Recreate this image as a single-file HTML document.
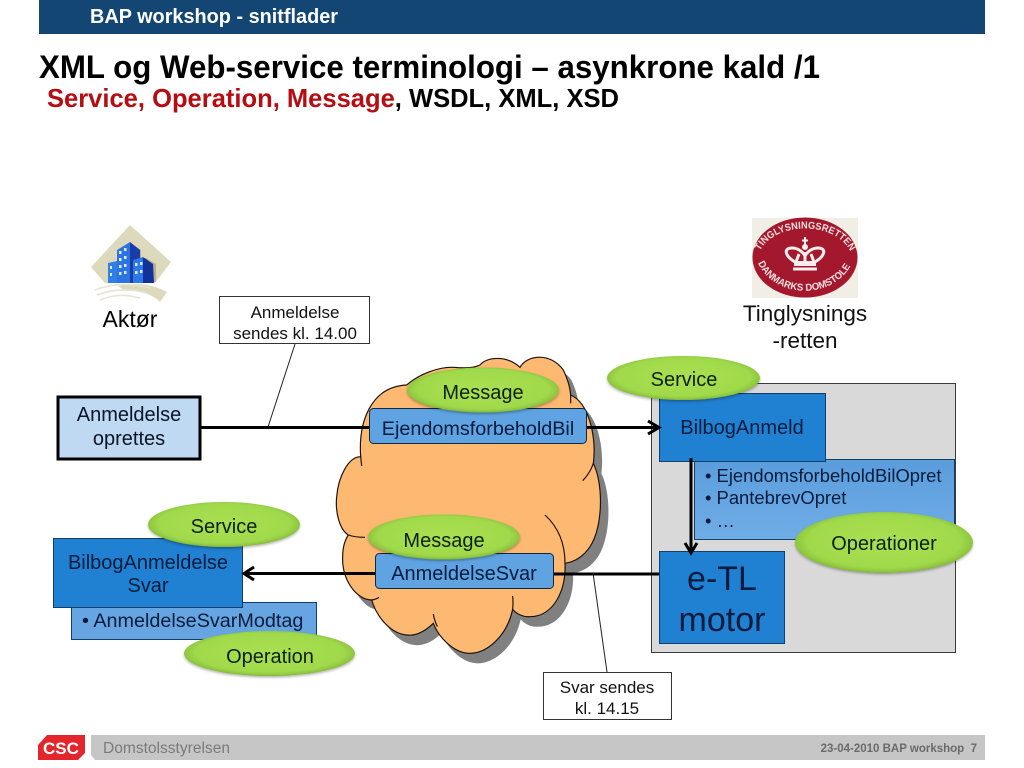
<!DOCTYPE html>
<html><head><meta charset="utf-8"><style>
html,body{margin:0;padding:0;background:#fff}
svg{display:block}
text{font-family:"Liberation Sans",sans-serif}
</style></head><body>
<svg xmlns="http://www.w3.org/2000/svg" width="1024" height="768" viewBox="0 0 1024 768">
<defs>
<radialGradient id="g" cx="50%" cy="48%" r="53%">
<stop offset="0" stop-color="#a9e052"/><stop offset="0.82" stop-color="#a0d94b"/><stop offset="0.94" stop-color="#8ec53e"/><stop offset="1" stop-color="#76a82e"/>
</radialGradient>
<linearGradient id="o" x1="0" y1="0" x2="0" y2="1"><stop offset="0" stop-color="#5a9ddc"/><stop offset="1" stop-color="#70ade6"/></linearGradient>
<filter id="s" x="-20%" y="-20%" width="140%" height="150%"><feDropShadow dx="0" dy="1.500" stdDeviation="1.200" flood-color="#000" flood-opacity=".3"/></filter>
<path id="cl" d="M92 350C85 250 120 140 230 135C270 100 330 80 370 82C400 85 430 85 450 75C470 50 530 45 570 82C590 45 660 35 700 90C712 115 720 140 722 165C780 190 800 300 790 370C820 430 820 560 780 620C760 650 735 665 705 670C710 750 670 830 600 830C580 832 560 822 548 808C530 890 470 940 420 940C370 940 325 890 310 850C280 880 250 888 230 885C180 880 140 830 125 780C80 780 35 720 38 650C38 620 45 600 55 585C30 570 15 520 20 470C25 410 55 350 92 350Z"/>
<path id="t1" d="M760 251C775 221 835 221 850 251" fill="none"/>
<path id="t2" d="M758 263C775 300 835 300 852 263" fill="none"/>
</defs>

<rect x="39" y="0" width="946" height="34" fill="#134673"/>
<text x="90" y="23" font-size="20" font-weight="bold" fill="#fff" textLength="248" lengthAdjust="spacingAndGlyphs">BAP workshop - snitflader</text>
<text x="39" y="78" font-size="32" font-weight="bold" fill="#000" textLength="781" lengthAdjust="spacingAndGlyphs">XML og Web-service terminologi – asynkrone kald /1</text>
<text x="47" y="107" font-size="26" font-weight="bold" fill="#000" textLength="572" lengthAdjust="spacingAndGlyphs"><tspan fill="#b50d12">Service, Operation, Message</tspan>, WSDL, XML, XSD</text>

<!-- Aktor icon -->
<polygon points="130,225 171,262 155,283 105,283 91,267" fill="#dcd9bd"/>
<path d="M118 286Q145 280 167 292L160 302Q148 290 126 291Z" fill="#dcd9bd"/>
<path d="M95 290Q120 280 150 288M97 295Q120 286 146 293M100 300Q120 292 140 298" stroke="#e8e5d2" stroke-width="1.500" fill="none"/>
<polygon points="132,244 141,250 141,258 146,258 156,264 156,282 140,282" fill="#8d8a63" opacity=".5"/>
<polygon points="108,263 117,261 117,283 108,283" fill="#2f7fe6"/>
<polygon points="117,250 130,242 130,283 117,283" fill="#2c74e2"/>
<polygon points="130,242 140,250 140,283 130,283" fill="#1a3ba8"/>
<polygon points="133,260 143,257 143,283 133,283" fill="#2c78e6"/>
<polygon points="143,257 153,264 154,283 143,283" fill="#12329a"/>
<g fill="#dcebff"><rect x="119" y="251" width="2.500" height="3"/><rect x="124" y="248" width="2.500" height="3"/><rect x="119" y="258" width="2.500" height="3"/><rect x="124" y="256" width="2.500" height="3"/><rect x="119" y="265" width="2.500" height="3"/><rect x="124" y="264" width="2.500" height="3"/><rect x="119" y="272" width="2.500" height="3"/><rect x="124" y="271" width="2.500" height="3"/><rect x="110" y="266" width="2" height="3"/><rect x="110" y="273" width="2" height="3"/><rect x="135" y="263" width="2.500" height="3"/><rect x="140" y="262" width="2.500" height="3"/><rect x="135" y="271" width="2.500" height="3"/><rect x="140" y="270" width="2.500" height="3"/></g>
<text x="130" y="327" font-size="23" text-anchor="middle" fill="#000">Aktør</text>

<!-- Seal -->
<rect x="752" y="218" width="106" height="80" fill="#f1eee6"/>
<ellipse cx="805" cy="257.500" rx="52.500" ry="40" fill="#a3182c"/>
<text font-size="10" font-weight="bold" fill="#f3dfe0"><textPath href="#t1" textLength="106" lengthAdjust="spacingAndGlyphs">TINGLYSNINGSRETTEN</textPath></text>
<text font-size="10" font-weight="bold" fill="#f3dfe0"><textPath href="#t2" textLength="112" lengthAdjust="spacingAndGlyphs">DANMARKS DOMSTOLE</textPath></text>
<g stroke="#f8eeee" fill="none" stroke-width="3">
<path d="M795 262C785 256 783 248 792 248C798 248 803 252 805 256C807 252 812 248 818 248C827 248 825 256 815 262"/>
<path d="M805 252V264M799 254L796 262M811 254L814 262"/>
</g>
<rect x="794" y="261" width="22" height="5" fill="#f8eeee"/>
<rect x="793" y="267.500" width="24" height="3" fill="#f8eeee"/>
<circle cx="805" cy="247" r="3" fill="#f8eeee"/>
<path d="M805 237V246M802 240.500H808" stroke="#f8eeee" stroke-width="2"/>
<text x="805" y="321" font-size="22.500" text-anchor="middle" fill="#111">Tinglysnings</text>
<text x="805" y="348" font-size="22.500" text-anchor="middle" fill="#111">-retten</text>

<!-- right container -->
<rect x="651.500" y="383.500" width="304" height="269" fill="#d9d9d9" stroke="#3b3b3b" stroke-width="1"/>
<rect x="694.500" y="459.500" width="260" height="80" fill="url(#o)" stroke="#173f64" stroke-width="1"/>
<rect x="659.500" y="393.500" width="166" height="68" fill="#2080d2" stroke="#123f6a" stroke-width="1"/>
<text x="742" y="434" font-size="20" text-anchor="middle" fill="#071c3c">BilbogAnmeld</text>
<g font-size="18.400" fill="#071c3c">
<text x="705" y="482">• EjendomsforbeholdBilOpret</text>
<text x="705" y="504">• PantebrevOpret</text>
<text x="705" y="527">• …</text>
</g>
<rect x="659.500" y="551.500" width="125" height="92" fill="#2080d2" stroke="#123f6a" stroke-width="1"/>
<text x="722" y="590" font-size="34" text-anchor="middle" fill="#071c3c">e-TL</text>
<text x="722" y="631" font-size="34" text-anchor="middle" fill="#071c3c">motor</text>
<path d="M691 458V552" stroke="#000" stroke-width="3"/>
<path d="M685 543L691 553L697 543" stroke="#000" stroke-width="3" fill="none"/>

<!-- left boxes -->
<rect x="58" y="397" width="142" height="62" fill="#bfd9f2" stroke="#000" stroke-width="3"/>
<text x="129" y="421" font-size="20" text-anchor="middle" fill="#0a1528">Anmeldelse</text>
<text x="129" y="445" font-size="20" text-anchor="middle" fill="#0a1528">oprettes</text>
<rect x="219.500" y="296.500" width="150" height="47" fill="#fff" stroke="#333" stroke-width="1"/>
<text x="295" y="318" font-size="17" text-anchor="middle" fill="#111">Anmeldelse</text>
<text x="295" y="339" font-size="17" text-anchor="middle" fill="#111">sendes kl. 14.00</text>
<path d="M295 344L268 427" stroke="#222" stroke-width="1" fill="none"/>

<rect x="71.500" y="602.500" width="245" height="37" fill="#66a5e2" stroke="#123f6a" stroke-width="1"/>
<text x="82" y="627" font-size="19.800" fill="#071c3c">• AnmeldelseSvarModtag</text>
<rect x="53.500" y="538.500" width="189" height="69" fill="#2080d2" stroke="#123f6a" stroke-width="1"/>
<text x="148" y="569" font-size="20" text-anchor="middle" fill="#071c3c">BilbogAnmeldelse</text>
<text x="148" y="592" font-size="20" text-anchor="middle" fill="#071c3c">Svar</text>

<!-- cloud -->
<g transform="translate(330 340) scale(.33333)">
<use href="#cl" x="24" y="30" fill="#808080"/>
<use href="#cl" fill="#fdb872" stroke="#1a1208" stroke-width="3.500"/>
<path d="M92 350L95 378M55 585Q75 592 105 592M125 780Q138 778 147 772M310 822Q312 838 322 860M548 768Q550 790 548 808M705 670Q705 580 645 525M790 370Q780 400 758 422M722 165V190" fill="none" stroke="#1a1208" stroke-width="3.500"/>
</g>

<!-- connectors -->
<path d="M200 427.500H369" stroke="#000" stroke-width="3"/>
<path d="M587 427.500H657" stroke="#000" stroke-width="3"/>
<path d="M648 421L659 427.500L648 434" stroke="#000" stroke-width="3" fill="none"/>
<path d="M246 573.500H375" stroke="#000" stroke-width="3"/>
<path d="M553 574H659" stroke="#000" stroke-width="3"/>
<path d="M254 567L244 573.500L254 580" stroke="#000" stroke-width="3" fill="none"/>
<path d="M593 573L607 672" stroke="#222" stroke-width="1" fill="none"/>
<rect x="543.500" y="672.500" width="128" height="47" fill="#fff" stroke="#333" stroke-width="1"/>
<text x="607" y="693" font-size="17" text-anchor="middle" fill="#111">Svar sendes</text>
<text x="607" y="714" font-size="17" text-anchor="middle" fill="#111">kl. 14.15</text>

<!-- message boxes -->
<rect x="369.500" y="408.500" width="217" height="35" rx="4" fill="#5fa3e2" stroke="#10263f" stroke-width="1"/>
<text x="478" y="435" font-size="19.800" text-anchor="middle" fill="#071c3c">EjendomsforbeholdBil</text>
<rect x="375.500" y="553.500" width="178" height="35" rx="4" fill="#5fa3e2" stroke="#10263f" stroke-width="1"/>
<text x="464" y="580" font-size="20" text-anchor="middle" fill="#071c3c">AnmeldelseSvar</text>

<!-- ellipses -->
<g fill="url(#g)" filter="url(#s)">
<ellipse cx="483" cy="390" rx="76" ry="22.500"/>
<ellipse cx="444" cy="537" rx="76" ry="22.500"/>
<ellipse cx="683.500" cy="378" rx="76.500" ry="22"/>
<ellipse cx="224" cy="524.500" rx="76" ry="22.500"/>
<ellipse cx="269.500" cy="653.500" rx="85.500" ry="22.500"/>
<ellipse cx="884" cy="542.500" rx="89" ry="30.500"/>
</g>
<g font-size="20" text-anchor="middle" fill="#0d2010">
<text x="483" y="399">Message</text>
<text x="444" y="547">Message</text>
<text x="684" y="386">Service</text>
<text x="224" y="533">Service</text>
<text x="270" y="663">Operation</text>
<text x="884" y="550">Operationer</text>
</g>

<!-- footer -->
<polygon points="47,735 85,735 85,753 78,760 38,760 38,745" fill="#e3262b"/>
<text x="61" y="754" font-size="17" font-weight="bold" fill="#fff" text-anchor="middle" textLength="36" lengthAdjust="spacingAndGlyphs">CSC</text>
<polygon points="91,735 985,735 985,760 95,760 91,755" fill="#c6c6c6"/>
<text x="103" y="753" font-size="15.500" fill="#7a7a7a" textLength="127" lengthAdjust="spacingAndGlyphs">Domstolsstyrelsen</text>
<text x="977" y="752" font-size="11.500" font-weight="bold" fill="#6a6a6a" text-anchor="end" xml:space="preserve">23-04-2010 BAP workshop  7</text>
</svg>
</body></html>
